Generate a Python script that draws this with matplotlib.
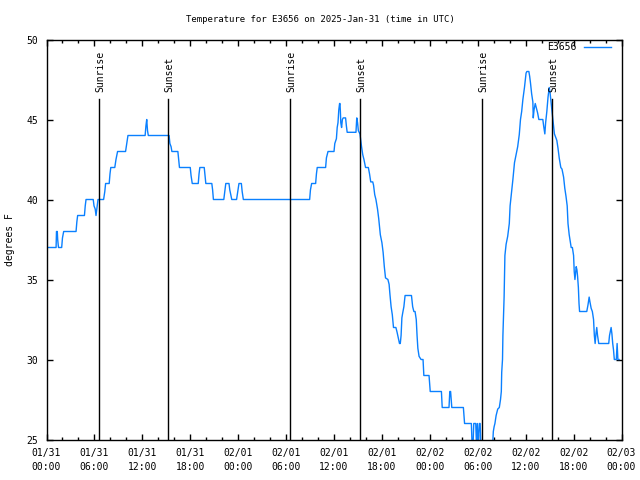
import matplotlib
matplotlib.use("Agg")
import matplotlib.pyplot as plt
from matplotlib.ticker import MultipleLocator

# ---- data (hours since 2025-01-31 00:00 UTC, temperature in F) ----
hours = [
    0.0, 1.2, 1.25, 1.35, 1.4, 1.5, 1.9, 2.0, 2.15, 3.7, 3.8, 3.9, 4.75, 4.85, 4.95,
    5.85, 5.95, 6.1, 6.2, 6.3, 6.45, 7.15, 7.3, 7.4, 7.85, 7.95, 8.05, 8.55, 8.7, 8.9,
    9.9, 10.05, 10.2, 12.35, 12.45, 12.55, 12.65, 12.75, 15.35, 15.45, 15.6, 15.7,
    16.45, 16.55, 16.65, 18.0, 18.1, 18.25, 19.0, 19.1, 19.2, 19.75, 19.85, 19.95,
    20.7, 20.8, 20.9, 22.2, 22.35, 22.45, 22.85, 22.95, 23.2, 23.8, 23.95, 24.1,
    24.4, 24.5, 24.65, 32.95, 33.05, 33.2, 33.7, 33.8, 33.9, 34.95, 35.05, 35.25,
    36.0, 36.1, 36.3, 36.4, 36.5, 36.6, 36.7, 36.75, 36.8, 36.85, 36.95, 37.05, 37.15,
    37.45, 37.55, 37.65, 38.75, 38.85, 38.95, 39.05, 39.25,
    39.35, 39.45, 39.6, 39.75, 39.95, 40.3, 40.45, 40.6, 40.85, 40.95, 41.1, 41.25,
    41.45, 41.6, 41.8, 42.0, 42.15, 42.3, 42.45, 42.75, 42.9, 43.0, 43.15, 43.3,
    43.45, 43.75, 43.9, 44.05, 44.2, 44.3, 44.4, 44.5, 44.6, 44.75, 44.9, 45.7,
    45.85, 46.0, 46.15, 46.3, 46.4, 46.5, 46.65, 46.9, 47.15, 47.25, 47.9, 48.05,
    49.45, 49.55, 50.4, 50.5, 50.6, 50.75, 52.2, 52.35, 53.2, 53.3, 53.4, 53.5,
    53.75, 53.85, 53.95, 54.05, 54.2, 54.3, 54.4, 55.85,
    55.95, 56.05, 56.15, 56.3, 56.5, 56.7, 56.85, 56.95, 57.0, 57.1, 57.15, 57.3,
    57.4, 57.55, 57.75, 57.95, 58.05, 58.2, 58.4, 58.6, 58.8, 59.0, 59.2, 59.35,
    59.5, 59.65, 59.85, 60.05, 60.15, 60.4, 60.5, 60.6, 60.75, 60.9, 60.95, 61.05,
    61.2, 61.35, 61.5, 61.65, 62.15, 62.25, 62.4, 62.5, 62.65, 62.8, 62.95, 63.05,
    63.15, 63.3, 63.45, 63.6, 63.75, 63.9, 64.05, 64.2, 64.4, 64.55, 64.75, 64.9,
    65.05, 65.2, 65.3, 65.45, 65.6, 65.7, 65.85, 66.0, 66.08, 66.17, 66.25, 66.33,
    66.42, 66.5, 66.6, 66.68, 66.75, 67.65, 67.8, 67.95, 68.05, 68.2, 68.35, 68.5,
    68.6, 68.7, 68.8, 68.9, 69.0, 69.15, 70.4, 70.5, 70.7, 70.8, 70.9, 71.0, 71.1,
    71.35, 71.45, 71.55, 71.7,
]
temps_f = [
    37, 37, 38, 38, 37.5, 37, 37, 37.6, 38, 38, 38.6, 39, 39, 39.6, 40,
    40, 39.6, 39.4, 39, 39.4, 40, 40, 40.5, 41, 41, 41.6, 42, 42, 42.5, 43,
    43, 43.5, 44, 44, 44.6, 45, 44.3, 44, 44, 43.5, 43.3, 43,
    43, 42.5, 42, 42, 41.5, 41, 41, 41.6, 42, 42, 41.5, 41,
    41, 40.6, 40, 40, 40.6, 41, 41, 40.6, 40, 40, 40.5, 41,
    41, 40.5, 40, 40, 40.6, 41, 41, 41.6, 42, 42, 42.6, 43,
    43, 43.5, 43.8, 44.5, 44.8, 45.6, 46, 46, 45.5, 44.8, 44.5, 45, 45.1,
    45.1, 44.6, 44.2, 44.2, 45.1, 44.8, 44.3, 44.1,
    43.7, 43.3, 42.8, 42.5, 42, 42, 41.6, 41.1, 41.1, 40.9, 40.3, 40,
    39.4, 38.8, 37.8, 37.3, 36.7, 35.8, 35.1, 35.0, 34.7, 34.1, 33.3, 32.8,
    32, 32, 31.7, 31.35, 31.0, 31.0, 31.5, 32.6, 32.9, 33.3, 34.0, 34.0,
    33.3, 33.0, 33.0, 32.5, 31.5, 30.7, 30.2, 30, 30, 29, 29, 28,
    28, 27, 27, 28, 28, 27, 27, 26, 26, 24.5, 24.5, 26,
    26, 24.5, 26, 24.5, 26, 26, 24.5, 24.5,
    25.5, 25.8, 26, 26.5, 26.9, 27, 27.5, 28, 29.2, 30, 31.5, 33.9,
    36.5, 37.2, 37.7, 38.5, 39.6, 40.3, 41.25, 42.3, 42.8, 43.3, 44.06, 45,
    45.5, 46.25, 47, 47.9, 48, 48, 47.7, 47.3, 46.6, 46.1, 45.1, 45.6,
    46, 45.7, 45.4, 45, 45, 44.6, 44.1, 44.8, 45.5, 46.4, 47, 46.7,
    46.2, 45.5, 44.8, 44.1, 43.9, 43.7, 43.2, 42.6, 42.0, 41.9, 41.4, 40.7,
    40.2, 39.6, 38.5, 37.8, 37.3, 37.0, 37.0, 36.5, 35.5, 35.0, 35.4, 35.8,
    35.6, 35.2, 34.5, 33.5, 33.0, 33.0, 33.4, 33.9, 33.6, 33.2, 33.0, 32.5,
    31.5, 31.0, 31.6, 32.0, 31.5, 31.0, 31.0, 31.5, 32.0, 31.6, 31.0, 30.6, 30.0,
    30.0, 31.0, 30.0, 30.0,
]
sunrise_hours = [6.6, 30.55, 54.55]
sunset_hours = [15.25, 39.27, 63.3]
tick_hours = [0, 6, 12, 18, 24, 30, 36, 42, 48, 54, 60, 66, 72]
tick_labels = ["01/31\n00:00", "01/31\n06:00", "01/31\n12:00", "01/31\n18:00",
               "02/01\n00:00", "02/01\n06:00", "02/01\n12:00", "02/01\n18:00",
               "02/02\n00:00", "02/02\n06:00", "02/02\n12:00", "02/02\n18:00",
               "02/03\n00:00"]
y_ticks = [25, 30, 35, 40, 45, 50]
series_name = "E3656"
title = "Temperature for E3656 on 2025-Jan-31 (time in UTC)"

plt.rcParams['font.family'] = ['DejaVu Sans Mono']
FS = 7

fig = plt.figure(figsize=(6.4, 4.8), dpi=100)
ax = fig.add_axes([46.5 / 640, 1 - 439.5 / 480, 575 / 640, 400 / 480])

ax.plot(hours, temps_f, color='#0a80ff', lw=1.0, label=series_name)

line_top = 0.851
for t in sunrise_hours:
    ax.axvline(t, ymin=0, ymax=line_top, color='black', lw=1.0)
    ax.text(t + 0.15, line_top + 0.018, "Sunrise", rotation=90, ha='center', va='bottom',
            fontsize=FS, transform=ax.get_xaxis_transform())
for t in sunset_hours:
    ax.axvline(t, ymin=0, ymax=line_top, color='black', lw=1.0)
    ax.text(t + 0.15, line_top + 0.018, "Sunset", rotation=90, ha='center', va='bottom',
            fontsize=FS, transform=ax.get_xaxis_transform())

ax.set_xlim(0, 72)
ax.set_ylim(25, 50)
ax.set_xticks(tick_hours)
ax.set_xticklabels(tick_labels, fontsize=FS, linespacing=1.55)
ax.xaxis.set_minor_locator(MultipleLocator(2))
ax.set_yticks(y_ticks)
ax.set_yticklabels([str(v) for v in y_ticks], fontsize=FS)
ax.tick_params(axis='both', which='major', direction='in', length=4, width=1.0,
               top=True, right=True, pad=6)
ax.tick_params(axis='x', which='minor', direction='in', length=2.5, width=1.0,
               top=True, bottom=True)
for s in ax.spines.values():
    s.set_linewidth(1.0)

leg = ax.legend(loc='upper right', bbox_to_anchor=(0.981, 0.993), frameon=False,
                fontsize=FS, markerfirst=False, handlelength=2.7, handletextpad=0.8,
                borderaxespad=0.0, borderpad=0.0)

fig.text(0.5, 1 - 19 / 480, title, ha='center', va='center', fontsize=6.5)
fig.text(10 / 640, 0.5, "degrees F", rotation=90, ha='center', va='center', fontsize=FS)

fig.savefig("out.png", dpi=100)
